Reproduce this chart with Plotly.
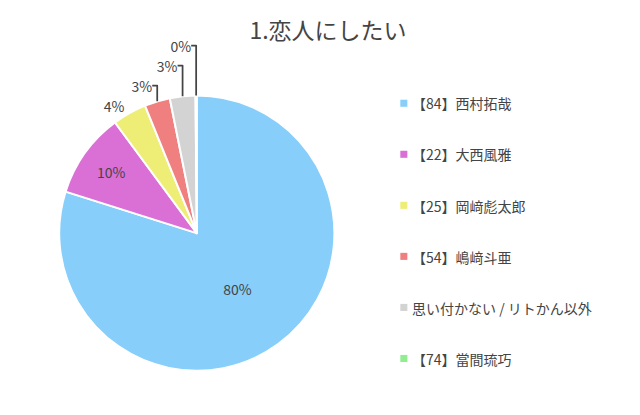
import plotly.graph_objects as go

labels = ["【84】西村拓哉", "【22】大西風雅", "【25】岡﨑彪太郎", "【54】嶋﨑斗亜",
          "思い付かない / リトかん以外", "【74】當間琉巧"]
values = [80, 10, 4, 3, 3, 0.15]
shown = ["80%", "10%", "4%", "3%", "3%", "0%"]
colors = ["#87CEFA", "#DA70D6", "#EEEE77", "#F08080", "#D3D3D3", "#90EE90"]

fig = go.Figure()
fig.add_trace(go.Pie(
    labels=labels, values=values, sort=False, direction="clockwise", rotation=0,
    text=shown, textinfo="text",
    textposition=["inside", "inside", "outside", "outside", "outside", "outside"],
    insidetextorientation="horizontal",
    textfont=dict(size=14, color="#444"),
    marker=dict(colors=colors, line=dict(color="white", width=2)),
    domain=dict(x=[0.08, 0.51], y=[0.12, 0.795]),
    showlegend=False,
))

# manual legend to match the wide spacing
for i, (lab, col) in enumerate(zip(labels, colors)):
    y = 0.77 - i * 0.123
    fig.add_shape(type="rect", xref="paper", yref="paper",
                  x0=0.613, x1=0.624, y0=y - 0.008, y1=y + 0.009,
                  fillcolor=col, line=dict(width=0))
    fig.add_annotation(text=lab, xref="paper", yref="paper", x=0.628, y=y,
                       xanchor="left", yanchor="middle", showarrow=False,
                       font=dict(size=14, color="#444"))

fig.add_shape(type="line", xref="paper", yref="paper", x0=0, x1=1, y0=0.012, y1=0.012,
              line=dict(color="#ddd", width=1))

fig.update_layout(
    width=640, height=415,
    title=dict(text="1.恋人にしたい", x=0.5, y=0.965, xanchor="center", yanchor="top",
               font=dict(size=23, color="#444")),
    font=dict(family="Noto Sans CJK JP"),
    margin=dict(l=0, r=0, t=0, b=0),
    paper_bgcolor="white",
)

fig.write_html("out.html")
